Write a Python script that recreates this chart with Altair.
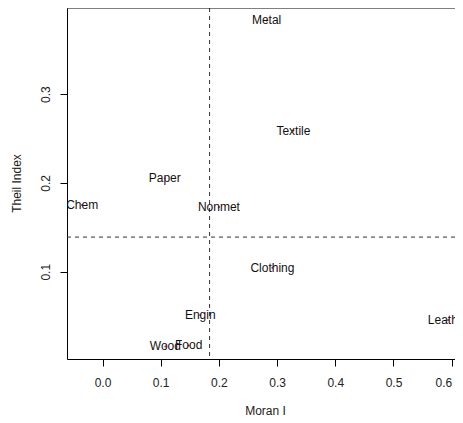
import altair as alt
import pandas as pd

industries = ["Chem", "Paper", "Metal", "Textile", "Nonmet", "Clothing", "Leather", "Engin", "Wood", "Food"]
moran_i = [-0.035, 0.107, 0.282, 0.328, 0.200, 0.292, 0.594, 0.168, 0.108, 0.148]
theil_index = [0.175, 0.205, 0.383, 0.259, 0.173, 0.1045, 0.0455, 0.0512, 0.0158, 0.0170]
x_ticks = [0.0, 0.1, 0.2, 0.3, 0.4, 0.5, 0.6]
y_ticks = [0.1, 0.2, 0.3]
x_domain = [-0.061, 0.6057]
y_domain = [0.0017, 0.397]
median_moran = [0.184]
median_theil = [0.139]

df = pd.DataFrame({"industry": industries, "moran": moran_i, "theil": theil_index})
vdf = pd.DataFrame({"moran": median_moran})
hdf = pd.DataFrame({"theil": median_theil})

FONT = "Liberation Sans"
W, H = 388, 351
xscale = alt.Scale(domain=x_domain, nice=False, zero=False)
yscale = alt.Scale(domain=y_domain, nice=False, zero=False)

x_axis = alt.Axis(values=x_ticks, format=".1f", title="Moran I", grid=False,
                  domain=True, domainColor="black", domainWidth=1,
                  tickSize=7, tickColor="black", tickWidth=1,
                  labelPadding=11, labelFontSize=12, labelFont=FONT, labelColor="#222",
                  labelFlush=5,
                  titleFont=FONT, titleFontSize=12, titleFontWeight="normal", titleColor="#222",
                  titleX=198, titleY=51, titleBaseline="middle", titleAlign="center")
y_axis = alt.Axis(values=y_ticks, format=".1f", title="Theil Index", grid=False,
                  domain=True, domainColor="black", domainWidth=1,
                  tickSize=7, tickColor="black", tickWidth=1,
                  labelAngle=270, labelAlign="center", labelBaseline="bottom",
                  labelPadding=8, labelFontSize=12, labelFont=FONT, labelColor="#222",
                  titleFont=FONT, titleFontSize=12, titleFontWeight="normal", titleColor="#222",
                  titleAngle=270, titleX=-51, titleY=175, titleBaseline="middle", titleAlign="center")

X = alt.X("moran:Q", scale=xscale, axis=x_axis)
Y = alt.Y("theil:Q", scale=yscale, axis=y_axis)

points = alt.Chart(df).mark_point(filled=True, color="red", size=4, opacity=1).encode(x=X, y=Y)
labels = alt.Chart(df).mark_text(font=FONT, fontSize=12, color="#111", clip=True,
                                 baseline="middle", align="center").encode(x=X, y=Y, text="industry:N")
vline = alt.Chart(vdf).mark_rule(strokeDash=[4, 4], color="#333", strokeWidth=1).encode(x=X)
hline = alt.Chart(hdf).mark_rule(strokeDash=[4, 4], color="#333", strokeWidth=1).encode(y=Y)
top_border = alt.Chart(vdf).mark_rule(color="black", strokeWidth=1).encode(
    x=alt.value(0), x2=alt.value(W), y=alt.value(0))

chart = alt.layer(vline, hline, points, labels, top_border).properties(
    width=W, height=H,
    autosize=alt.AutoSizeParams(type="none"),
    padding={"left": 59, "top": 0, "right": 0, "bottom": 58},
).configure_view(stroke=None)

chart.save("out.html", embed_options={"renderer": "svg", "actions": False})
